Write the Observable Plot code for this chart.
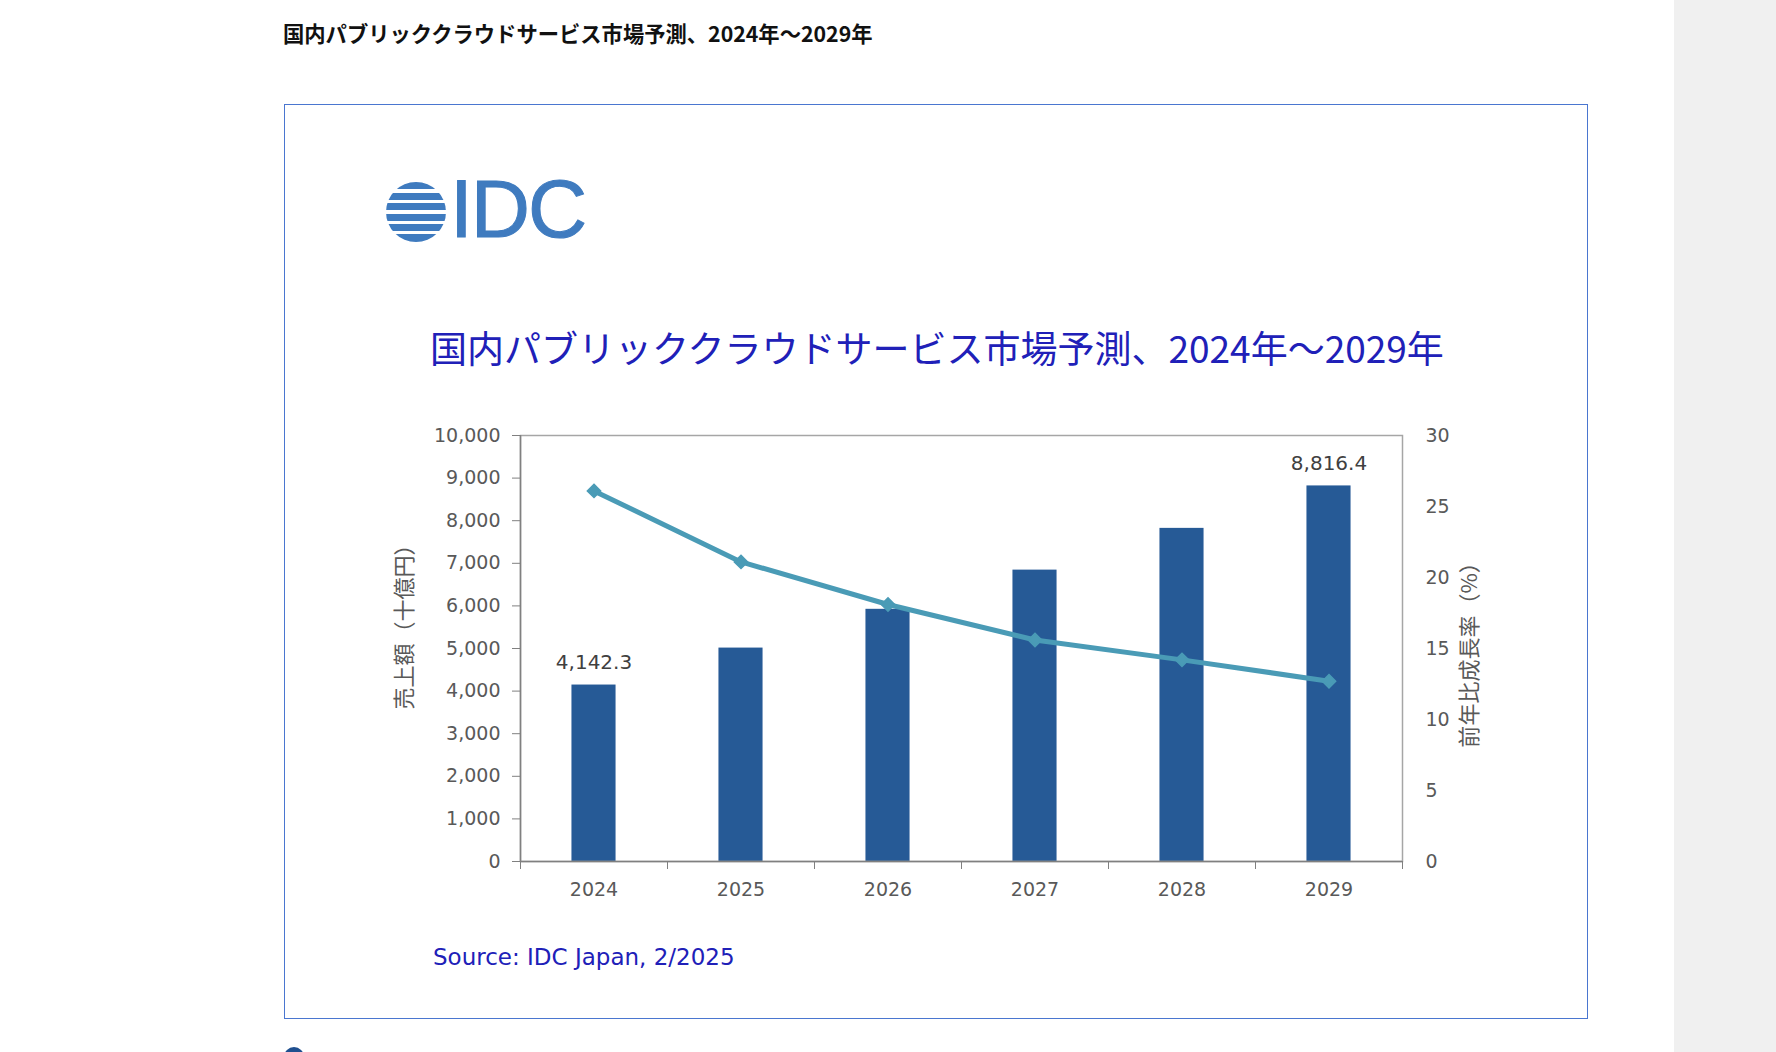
<!DOCTYPE html>
<html lang="ja">
<head>
<meta charset="utf-8">
<script src="https://cdn.jsdelivr.net/npm/d3@7"></script>
<script src="https://cdn.jsdelivr.net/npm/@observablehq/plot@0.6"></script>
<style>
  html, body { margin: 0; padding: 0; background: #fff; }
  body { width: 1776px; height: 1052px; position: relative; overflow: hidden; font-family: "Noto Sans CJK JP", "Noto Sans", sans-serif; }
  #side { position: absolute; left: 1674px; top: 0; width: 102px; height: 1052px; background: #f0f0f0; }
  #pagetitle { position: absolute; left: 283px; top: 21px; font-size: 21.3px; line-height: 24px; font-weight: bold; color: #111; white-space: nowrap; }
  #box { position: absolute; left: 284px; top: 104px; width: 1302px; height: 913px; border: 1.5px solid #4a76d0; }
  #logo { position: absolute; left: 386px; top: 178px; height: 66px; }
  #globe { position: absolute; left: 0; top: 4px; width: 60px; height: 60px; border-radius: 50%;
           background: repeating-linear-gradient(to bottom, #3f7bbf 0px, #3f7bbf 7px, #fff 7px, #fff 10.5px); }
  #idc { position: absolute; left: 64px; top: -10px; font-family: "Liberation Sans", sans-serif; font-size: 82px; line-height: 82px; color: #3f7bbf; letter-spacing: -2px; -webkit-text-stroke: 1px #3f7bbf; }
  #charttitle { position: absolute; left: 430px; top: 326px; font-size: 37px; line-height: 42px; color: #2020b8; white-space: nowrap; }
  #chart { position: absolute; left: 300px; top: 380px; }
  #source { position: absolute; left: 433px; top: 943px; font-family: "DejaVu Sans", sans-serif; font-size: 23px; line-height: 28px; color: #2020b8; white-space: nowrap; }
  #bullet { position: absolute; left: 284px; top: 1047px; width: 20px; height: 20px; border-radius: 50%; background: #1f4f8f; }
</style>
</head>
<body>
<div id="side"></div>
<div id="pagetitle">国内パブリッククラウドサービス市場予測、2024年～2029年</div>
<div id="box"></div>
<div id="logo"><div id="globe"></div><div id="idc">IDC</div></div>
<div id="charttitle">国内パブリッククラウドサービス市場予測、2024年～2029年</div>
<div id="chart"></div>
<div id="source">Source: IDC Japan, 2/2025</div>
<div id="bullet"></div>
<script>
// ---- data ----
const years = [2024, 2025, 2026, 2027, 2028, 2029];
const revenue = [4142.3, 5010, 5920, 6840, 7820, 8816.4];   // 売上額（十億円）
const growth = [26.1, 21.1, 18.1, 15.6, 14.2, 12.7];         // 前年比成長率（%）
const leftTicks = [0, 1000, 2000, 3000, 4000, 5000, 6000, 7000, 8000, 9000, 10000];
const rightTicks = [0, 5, 10, 15, 20, 25, 30];
const labeledYears = [2024, 2029];
const leftTitle = "売上額（十億円）";
const rightTitle = "前年比成長率（%）";

const yMax = 10000, rMax = 30, k = yMax / rMax;
const data = years.map((year, i) => ({year, revenue: revenue[i], growth: growth[i]}));
const boundaries = [years[0] - 0.5, ...years.map(y => y + 0.5)];
const labeled = data.filter(d => labeledYears.includes(d.year));

const barColor = "#265a96";
const lineColor = "#4a9bb6";

const chart = Plot.plot({
  width: 1260,
  height: 540,
  marginLeft: 220,
  marginRight: 158,
  marginTop: 55,
  marginBottom: 59,
  style: {fontFamily: "DejaVu Sans", fontSize: "19px", color: "#595959", background: "transparent", overflow: "visible"},
  x: {type: "linear", domain: [boundaries[0], boundaries[boundaries.length - 1]]},
  y: {domain: [0, yMax]},
  marks: [
    Plot.rectY(data, {x1: d => d.year - 0.15, x2: d => d.year + 0.15, y: "revenue", fill: barColor}),
    Plot.frame({stroke: "#a6a6a6", strokeWidth: 1.5}),
    Plot.ruleX([boundaries[0]], {stroke: "#808080", strokeWidth: 1.5}),
    Plot.ruleY([0], {stroke: "#808080", strokeWidth: 1.5}),
    Plot.axisY({ticks: leftTicks, tickSize: 8, tickPadding: 12, tickFormat: d3.format(","), label: null, stroke: "#808080"}),
    Plot.axisY({anchor: "right", ticks: rightTicks.map(v => v * k), tickSize: 0, tickPadding: 23, tickFormat: d => String(Math.round(d / k)), label: null}),
    Plot.axisX({ticks: boundaries, tickSize: 8, tickFormat: () => "", label: null, stroke: "#808080"}),
    Plot.axisX({ticks: years, tickSize: 0, tickPadding: 21, tickFormat: d => String(d), label: null}),
    Plot.line(data, {x: "year", y: d => d.growth * k, stroke: lineColor, strokeWidth: 5}),
    Plot.dot(data, {x: "year", y: d => d.growth * k, symbol: "diamond2", fill: lineColor, stroke: lineColor, r: 6}),
    Plot.text(labeled, {x: "year", y: "revenue", text: d => d3.format(",.1f")(d.revenue), dy: -22, fill: "#404040", fontSize: 20}),
    Plot.text([leftTitle], {frameAnchor: "left", textAnchor: "middle", rotate: -90, dx: -116, dy: -27, fill: "#595959", fontSize: 22, fontFamily: "Noto Sans CJK JP"}),
    Plot.text([rightTitle], {frameAnchor: "right", textAnchor: "middle", rotate: -90, dx: 67, dy: 1, fill: "#595959", fontSize: 22, fontFamily: "Noto Sans CJK JP"})
  ]
});
document.getElementById("chart").appendChild(chart);
</script>
</body>
</html>
